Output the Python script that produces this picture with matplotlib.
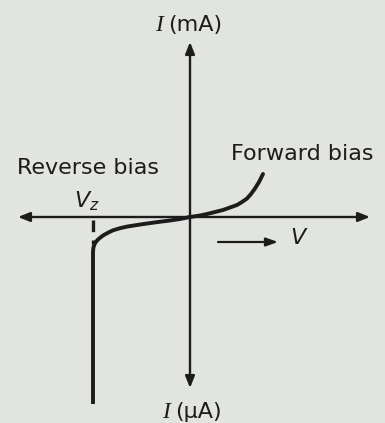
import matplotlib.pyplot as plt

# Zener diode I-V characteristic (origin at the axis crossing)
reverse_v = [-97, -97, -96.8, -96.3, -95.5, -94.3, -92.5, -90, -87, -82, -77, -70,
             -63, -53, -43, -32, -20, -10, 0]
reverse_i = [-187, -36, -32, -29.5, -27.3, -25.2, -23, -20.8, -18.5, -15.7, -13.3, -11.2,
             -9.6, -8, -6.5, -5, -3.5, -2, 0]
forward_v = [0, 10, 17, 25, 33, 40, 47, 52, 57, 61, 65, 69, 73]
forward_i = [0, 1.5, 3, 5, 7, 9.5, 12, 15, 18.5, 23, 28.5, 35, 43]
zener_v = -97

ink = "#1c1c1c"
paper = "#e2e4e0"

plt.rcParams["font.family"] = ["DejaVu Sans"]
plt.rcParams["mathtext.fontset"] = "custom"
plt.rcParams["mathtext.it"] = "DejaVu Sans:italic"
plt.rcParams["mathtext.rm"] = "DejaVu Sans"

fig = plt.figure(figsize=(3.85, 4.23), dpi=100, facecolor=paper)
ax = fig.add_axes([0, 0, 1, 1])
ax.set_facecolor(paper)
ax.set_xlim(-190, 195)
ax.set_ylim(-206, 217)
ax.axis("off")

# axes with arrow heads at both ends
head = dict(arrowstyle="<|-|>,head_length=0.7,head_width=0.28",
            lw=1.7, color=ink, shrinkA=0, shrinkB=0, mutation_scale=10)
ax.annotate("", xy=(180, 0), xytext=(-172, 0), arrowprops=head)
ax.annotate("", xy=(0, 175), xytext=(0, -171), arrowprops=head)

# characteristic curve
ax.plot(reverse_v, reverse_i, color=ink, lw=2.8, solid_capstyle="butt",
        solid_joinstyle="round")
ax.plot(forward_v, forward_i, color=ink, lw=2.8, solid_capstyle="round",
        solid_joinstyle="round")
ax.plot([zener_v, zener_v], [-3, -27], color=ink, lw=2.4, linestyle=(0, (3.5, 2.5)))

# direction of V
ax.annotate("", xy=(88, -25), xytext=(28, -25),
            arrowprops=dict(arrowstyle="-|>,head_length=0.7,head_width=0.25",
                            lw=1.6, color=ink, shrinkA=0, shrinkB=0, mutation_scale=10))

fs = 16
ax.text(-173, 49, "Reverse bias", fontsize=fs, color=ink, ha="left", va="center")
ax.text(41, 63, "Forward bias", fontsize=fs, color=ink, ha="left", va="center")
ax.text(-103, 16, r"$V_z$", fontsize=fs, color=ink, ha="center", va="center")
ax.text(100, -21, r"$V$", fontsize=fs, color=ink, ha="left", va="center")

ax.text(-27, 192, "I", fontsize=fs + 1, color=ink, ha="right", va="center",
        family="Liberation Serif", style="italic")
ax.text(-22, 192, "(mA)", fontsize=fs, color=ink, ha="left", va="center")
ax.text(-20, -195, "I", fontsize=fs + 1, color=ink, ha="right", va="center",
        family="Liberation Serif", style="italic")
ax.text(-15, -195, "(\u00b5A)", fontsize=fs, color=ink, ha="left", va="center")

fig.savefig("out.png", dpi=100, facecolor=paper)
plt.close(fig)
